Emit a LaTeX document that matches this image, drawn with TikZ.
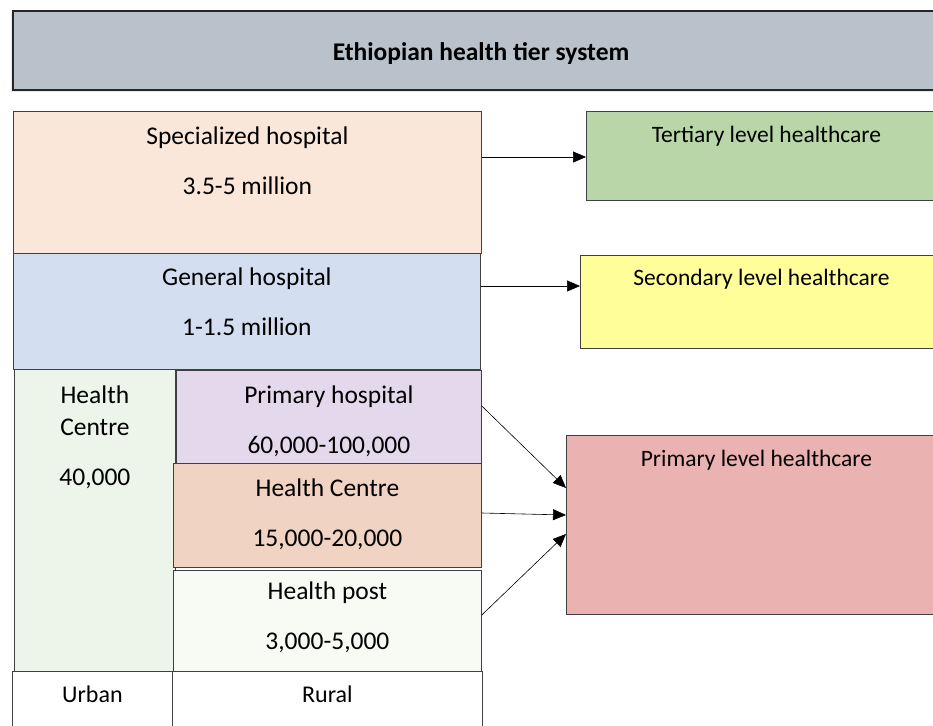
\documentclass[tikz,border=0pt]{standalone}
\usepackage{fontspec}
\setmainfont{Carlito}
\usetikzlibrary{positioning,arrows.meta,shadows}

\definecolor{titlegray}{HTML}{B9C1CB}
\definecolor{specpeach}{HTML}{FBE6DA}
\definecolor{genblue}{HTML}{D3DFF0}
\definecolor{urbgreen}{HTML}{EDF4E9}
\definecolor{primlilac}{HTML}{E4D9EC}
\definecolor{hcpeach}{HTML}{F0D3C2}
\definecolor{postwhite}{HTML}{F8FAF4}
\definecolor{tertgreen}{HTML}{B8D6A7}
\definecolor{secyellow}{HTML}{FFFE99}
\definecolor{primred}{HTML}{EBB2B2}

\tikzset{
	tier/.style={draw=black!75, line width=0.8pt, anchor=north west, inner sep=0pt},
	txt/.style={anchor=base, inner sep=0pt, font=\fontsize{25.5}{30}\selectfont},
	lvltxt/.style={txt, font=\fontsize{23.5}{28}\selectfont},
	link/.style={-{Triangle[length=13pt,width=11pt]}, line width=0.6pt}
}

\begin{document}
\begin{tikzpicture}[x=1pt,y=-1pt]
				%\draw[help lines] (0,0) grid (933,725);
				\useasboundingbox (0,0) rectangle (933,725);
				\clip (0,0) rectangle (933,725);
				
				% heading
				\node[tier, fill=titlegray, line width=2pt, draw=black!85,
				drop shadow={opacity=0.2, shadow xshift=-2pt, shadow yshift=-2pt},
				minimum width=936, minimum height=79] (head) at (12,10) {};
				\node[txt, font=\fontsize{25.5}{30}\selectfont\bfseries] at ([yshift=-50pt]head.north) {Ethiopian health tier system};
				
				% tiers on the left
				\node[tier, fill=specpeach, minimum width=468, minimum height=142] (spec) at (13,111) {};
				\node[tier, fill=genblue, minimum width=467, minimum height=116] (gen) at (13,253) {};
				\node[tier, fill=urbgreen, minimum width=161, minimum height=302] (urb) at (14,369) {};
				\node[tier, fill=primlilac, minimum width=305, minimum height=93] (prim) at (176,370) {};
				\node[tier, fill=hcpeach, minimum width=308, minimum height=104] (hc) at (173,463) {};
				\node[tier, fill=postwhite, minimum width=308, minimum height=101] (post) at (173,570) {};
				\node[tier, fill=white, minimum width=160, minimum height=70] (urban) at (12,671) {};
				\node[tier, fill=white, minimum width=310, minimum height=70] (rural) at (172,671) {};
				
				\node[txt] at ([yshift=-33pt]spec.north) {Specialized hospital};
				\node[txt] at ([yshift=-83pt]spec.north) {3.5-5 million};
				\node[txt] at ([yshift=-32pt]gen.north) {General hospital};
				\node[txt] at ([yshift=-82pt]gen.north) {1-1.5 million};
				\node[txt] at ([yshift=-34pt]urb.north) {Health};
				\node[txt] at ([yshift=-66pt]urb.north) {Centre};
				\node[txt] at ([yshift=-116pt]urb.north) {40,000};
				\node[txt] at ([yshift=-33pt]prim.north) {Primary hospital};
				\node[txt] at ([yshift=-83pt]prim.north) {60,000-100,000};
				\node[txt] at ([yshift=-33pt]hc.north) {Health Centre};
				\node[txt] at ([yshift=-83pt]hc.north) {15,000-20,000};
				\node[txt] at ([yshift=-29pt]post.north) {Health post};
				\node[txt] at ([yshift=-79pt]post.north) {3,000-5,000};
				\node[txt, font=\fontsize{24}{28}\selectfont] at ([yshift=-31pt]urban.north) {Urban};
				\node[txt, font=\fontsize{24}{28}\selectfont] at ([yshift=-31pt]rural.north) {Rural};
				
				% levels of care
				\node[tier, fill=tertgreen, minimum width=360, minimum height=89] (tert) at (586,111) {};
				\node[tier, fill=secyellow, minimum width=362, minimum height=93] (sec) at (580,255) {};
				\node[tier, fill=primred, minimum width=380, minimum height=179] (lvl) at (566,435) {};
				\node[lvltxt] at ([yshift=-31pt]tert.north) {Tertiary level healthcare};
				\node[lvltxt] at ([yshift=-30pt]sec.north) {Secondary level healthcare};
				\node[lvltxt] at ([yshift=-31pt]lvl.north) {Primary level healthcare};
				
				\coordinate (t1) at (586,157);
				\coordinate (s1) at (580,286);
				\draw[link] (spec.east |- t1) -- (t1);
				\draw[link] (gen.east |- s1) -- (s1);
				\draw[link] ([yshift=-36pt]prim.north east) -- ([yshift=-53pt]lvl.north west);
				\draw[link] ([yshift=-50pt]hc.north east) -- ([yshift=-80pt]lvl.north west);
				\draw[link] ([yshift=-45pt]post.north east) -- ([yshift=-99pt]lvl.north west);
			\end{tikzpicture}
\end{document}
